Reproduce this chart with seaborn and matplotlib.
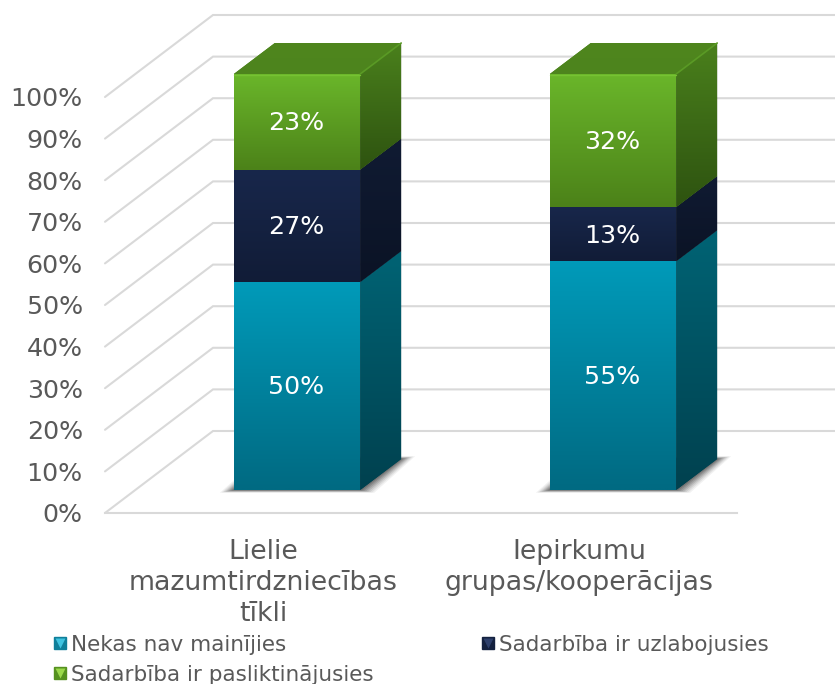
import numpy as np
import seaborn as sns
import matplotlib
matplotlib.use("Agg")
import matplotlib.pyplot as plt
from matplotlib.colors import to_rgb
from matplotlib.lines import Line2D
from matplotlib.legend_handler import HandlerTuple
from matplotlib.patches import Polygon
from matplotlib.transforms import ScaledTranslation

categories = ["Lielie\nmazumtirdzniecības\ntīkli", "Iepirkumu\ngrupas/kooperācijas"]
series_names = ["Nekas nav mainījies", "Sadarbība ir uzlabojusies", "Sadarbība ir pasliktinājusies"]
series_values = [[50, 55], [27, 13], [23, 32]]
y_ticks = [0, 10, 20, 30, 40, 50, 60, 70, 80, 90, 100]

front_cols = [("#009ab9", "#006a82"), ("#18274b", "#111c37"), ("#6ab62a", "#4c8219")]
side_cols = [("#006374", "#00414f"), ("#101b33", "#0b1325"), ("#4a801c", "#2e5310")]
top_col = ("#4f861e", "#4d841d")
legend_cols = ["#0f7f9a", "#14213f", "#55911f"]
legend_tri = ["#3fc3e0", "#2d3f6b", "#9ad84a"]
text_col = "#595959"
grid_col = "#d9d9d9"

sns.set_theme(style="white")
plt.rcParams["font.family"] = ["DejaVu Sans"]

W, H = 835, 684
fig = plt.figure(figsize=(W / 100, H / 100), dpi=100)
# the axes is the front edge of the floor, bars sit further back
ax = fig.add_axes([105 / W, 1 - 513 / H, 632 / W, 416 / H])

px_x = 316.0  # pixels per category
px_y = 4.16   # pixels per percent
bar_tr = ax.transData + ScaledTranslation(34 / 100, 23 / 100, fig.dpi_scale_trans)
label_tr = ax.transData + ScaledTranslation(33 / 100, 21.5 / 100, fig.dpi_scale_trans)
side_dx, side_dy = 41 / px_x, 31 / px_y


def gradient(pts, cols, zorder):
    pts = np.array(pts)
    poly = Polygon(pts, closed=True, transform=bar_tr, fc=cols[1], ec="none", zorder=zorder,
                   clip_on=False)
    ax.add_patch(poly)
    ramp = np.linspace(to_rgb(cols[0]), to_rgb(cols[1]), 64).reshape(64, 1, 3)
    im = ax.imshow(ramp, extent=(pts[:, 0].min(), pts[:, 0].max(), pts[:, 1].min(), pts[:, 1].max()),
                   aspect="auto", transform=bar_tr, zorder=zorder, interpolation="bilinear")
    im.set_clip_box(fig.bbox)
    im.set_clip_path(poly)


# stacked bars
bottoms = np.zeros(len(categories))
for i, vals in enumerate(series_values):
    n_before = len(ax.patches)
    sns.barplot(x=categories, y=vals, bottom=bottoms, width=0.4, color=front_cols[i][1],
                saturation=1, ax=ax, zorder=4, edgecolor="none", linewidth=0)
    for bar, val in zip(ax.patches[n_before:], vals):
        x0, x1 = bar.get_x(), bar.get_x() + bar.get_width()
        y0, y1 = bar.get_y(), bar.get_y() + bar.get_height()
        bar.set_transform(bar_tr)
        bar.set_clip_on(False)
        gradient([(x0, y0), (x1, y0), (x1, y1), (x0, y1)], front_cols[i], 5)
        gradient([(x1, y0), (x1 + side_dx, y0 + side_dy), (x1 + side_dx, y1 + side_dy), (x1, y1)],
                 side_cols[i], 5)
        ax.text((x0 + x1) / 2, (y0 + y1) / 2, f"{val}%", color="white", fontsize=18.2,
                ha="center", va="center", transform=label_tr, zorder=8)
        if i == len(series_values) - 1:
            gradient([(x0, y1), (x1, y1), (x1 + side_dx, y1 + side_dy), (x0 + side_dx, y1 + side_dy)],
                     top_col, 5)
            ax.plot([x1, x1 + side_dx], [y1, y1 + side_dy], color="#5a9a25", lw=1.2,
                    transform=bar_tr, zorder=6, clip_on=False)
            ax.plot([x0, x1], [y1 - 0.3, y1 - 0.3], color="#76c233", lw=1.0,
                    transform=bar_tr, zorder=6, clip_on=False)
        if i == 0:
            # soft shadow on the floor
            for grow, a in zip([14, 12, 10, 8, 6, 4, 2], [0.06, 0.08, 0.10, 0.13, 0.15, 0.17, 0.20]):
                gx, gy = grow / px_x, grow / px_y * 0.2
                shadow = Polygon([(x0 - gx, y0 - gy), (x1 + gx, y0 - gy),
                                  (x1 + side_dx + gx, y0 + side_dy + gy),
                                  (x0 + side_dx - gx, y0 + side_dy + gy)],
                                 closed=True, fc="#202020", ec="none", alpha=a,
                                 transform=bar_tr, zorder=2)
                ax.add_patch(shadow)
    bottoms = bottoms + np.array(vals)

ax.set_xlim(-0.5, 1.5)
ax.set_ylim(0, 100)

# walls
back_dx, back_dy = 108 / px_x, 82 / px_y
x_end = -0.5 + (W - 105) / px_x
for v in y_ticks:
    ax.plot([-0.5, -0.5 + back_dx, x_end], [v, v + back_dy, v + back_dy], color=grid_col, lw=1.5,
            clip_on=False, zorder=1, solid_joinstyle="miter")

sns.despine(ax=ax, left=True, right=True, top=True)
ax.spines["bottom"].set_color(grid_col)
ax.spines["bottom"].set_linewidth(1.5)
ax.set_yticks(y_ticks)
ax.set_yticklabels([f"{v}%" for v in y_ticks], fontsize=18.2, color=text_col)
ax.tick_params(axis="y", length=0, pad=16)
ax.tick_params(axis="x", length=0, pad=18.5)
ax.set_xticks(range(len(categories)))
ax.set_xticklabels(categories, fontsize=19.3, color=text_col, linespacing=1.27)
ax.patch.set_alpha(0)

# legend, filled column by column so the order is 0, 2, 1
handles = []
for i in [0, 2, 1]:
    sq = Line2D([], [], marker="s", ms=9, mfc=legend_cols[i], mec=legend_cols[i], ls="none")
    tri = Line2D([], [], marker="v", ms=6.5, mfc=legend_tri[i], mec="none", ls="none")
    handles.append((sq, tri))
leg = fig.legend(handles, [series_names[i] for i in [0, 2, 1]], ncols=2, frameon=False,
                 loc="upper left", bbox_to_anchor=(51.5 / W, 1 - 635 / H), fontsize=15.5,
                 labelcolor=text_col, handlelength=0.8, handletextpad=0.12,
                 columnspacing=4.88, labelspacing=0.45, borderpad=0, borderaxespad=0,
                 handler_map={tuple: HandlerTuple(ndivide=1)})

fig.savefig("out.png", dpi=100)
